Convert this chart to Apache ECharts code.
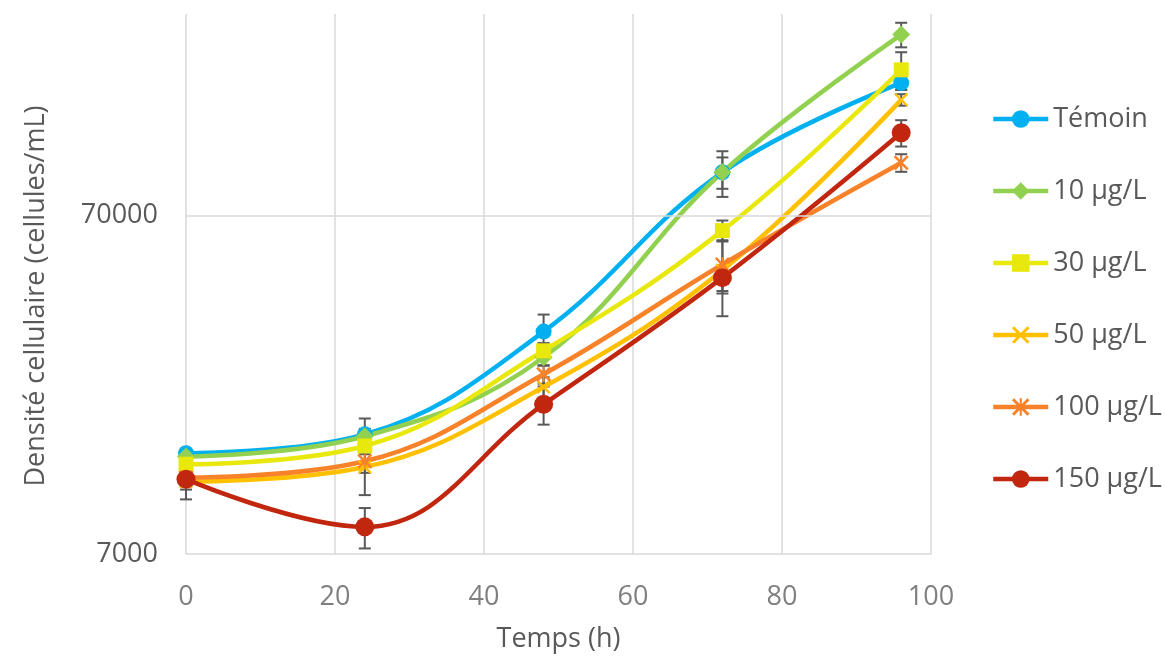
<!DOCTYPE html>
<html>
<head>
<meta charset="utf-8">
<script src="https://cdn.jsdelivr.net/npm/echarts@6/dist/echarts.min.js"></script>
<style>
html,body{margin:0;padding:0;background:#fff;}
#chart{width:1167px;height:658px;}
</style>
</head>
<body>
<div id="chart"></div>
<script>
// ---- data ----
const times = [0, 24, 48, 72, 96];
const seriesNames = ['Témoin', '10 µg/L', '30 µg/L', '50 µg/L', '100 µg/L', '150 µg/L'];
const temoin = [13900, 15800, 31800, 94000, 172700];
const c10 = [13600, 15600, 26700, 94000, 240000];
const c30 = [12900, 14600, 27900, 63200, 188800];
const c50 = [11450, 12650, 21800, 48300, 153900];
const c100 = [11780, 13160, 23800, 50200, 100300];
const c150 = [11650, 8420, 19380, 45900, 123000];
const errTemoin = [400, 1800, 3900, 14500, 8000];
const err10 = [400, 800, 1500, 10000, 20000];
const err30 = [400, 800, 1500, 4500, 24000];
const err50 = [600, 2200, 1500, 13000, 6000];
const err100 = [600, 1000, 1500, 9000, 6000];
const err150 = [1500, 1150, 2500, 4000, 11000];
const xTicks = [0, 20, 40, 60, 80, 100];
const yTickLabels = ['7000', '70000'];
const yTickValues = [7000, 70000];

const values = [temoin, c10, c30, c50, c100, c150];
const errors = [errTemoin, err10, err30, err50, err100, err150];
const colors = ['#00B0F0', '#92D050', '#E8E80C', '#FFC000', '#F7822A', '#C1260F'];
const xPath = 'path://M0,1.2 L1.2,0 L5,3.8 L8.8,0 L10,1.2 L6.2,5 L10,8.8 L8.8,10 L5,6.2 L1.2,10 L0,8.8 L3.8,5 Z';
const starPath = 'path://M0,1.2 L1.2,0 L5,3.8 L8.8,0 L10,1.2 L6.2,5 L10,8.8 L8.8,10 L5,6.2 L1.2,10 L0,8.8 L3.8,5 Z M4.4,0 L5.6,0 L5.6,10 L4.4,10 Z';
const symbols = ['circle', 'diamond', 'rect', xPath, starPath, 'circle'];
const symbolSizes = [16, 18, 15, 14, 15, 19];

const FONT = 'Open Sans';
const chart = echarts.init(document.getElementById('chart'), null, {renderer: 'canvas'});

const lineSeries = seriesNames.map((name, i) => ({
  name: name,
  type: 'line',
  smooth: 0.4,
  z: 3,
  data: times.map((t, k) => [t, values[i][k]]),
  symbol: symbols[i],
  symbolSize: symbolSizes[i],
  showAllSymbol: true,
  lineStyle: {color: colors[i], width: 4.5},
  itemStyle: {color: colors[i], borderWidth: 0},
  emphasis: {disabled: true}
}));

const errData = [];
seriesNames.forEach((n, i) => {
  times.forEach((t, k) => errData.push([t, values[i][k], errors[i][k]]));
});

const errSeries = {
  type: 'custom',
  name: 'err',
  z: 2,
  clip: false,
  data: errData,
  encode: {x: 0, y: 1},
  renderItem: function (params, api) {
    const x = api.value(0), v = api.value(1), e = api.value(2);
    const top = api.coord([x, v + e]);
    const bot = api.coord([x, v - e]);
    const hw = 6;
    const st = {stroke: '#595959', lineWidth: 2};
    return {
      type: 'group',
      children: [
        {type: 'line', shape: {x1: top[0], y1: top[1], x2: bot[0], y2: bot[1]}, style: st},
        {type: 'line', shape: {x1: top[0] - hw, y1: top[1], x2: top[0] + hw, y2: top[1]}, style: st},
        {type: 'line', shape: {x1: bot[0] - hw, y1: bot[1], x2: bot[0] + hw, y2: bot[1]}, style: st}
      ]
    };
  }
};

const gridSeries = {
  type: 'line',
  name: 'grid',
  z: 1,
  data: [],
  silent: true,
  markLine: {
    silent: true,
    symbol: ['none', 'none'],
    animation: false,
    lineStyle: {color: '#D9D9D9', width: 1.5, type: 'solid'},
    label: {
      show: true,
      position: 'start',
      distance: 28,
      color: '#595959',
      fontFamily: FONT,
      fontSize: 27,
      formatter: function (p) { return yTickLabels[yTickValues.indexOf(p.value)]; }
    },
    emphasis: {disabled: true},
    data: [{yAxis: yTickValues[1]}]
  }
};

chart.setOption({
  animation: false,
  backgroundColor: '#ffffff',
  textStyle: {fontFamily: FONT},
  grid: {left: 186, right: 236, top: 14, bottom: 103, containLabel: false},
  legend: {
    data: seriesNames,
    orient: 'vertical',
    left: 986,
    top: 99,
    itemWidth: 55,
    itemHeight: 22,
    itemGap: 42,
    lineStyle: {width: 4.5},
    textStyle: {color: '#595959', fontSize: 27, fontFamily: FONT, lineHeight: 30},
    selectedMode: false
  },
  xAxis: {
    type: 'value',
    min: xTicks[0],
    max: xTicks[xTicks.length - 1],
    interval: 20,
    name: 'Temps (h)',
    nameLocation: 'middle',
    nameGap: 72,
    nameTextStyle: {color: '#595959', fontSize: 27, fontFamily: FONT},
    axisLine: {show: true, lineStyle: {color: '#D9D9D9', width: 1.5}},
    axisTick: {show: false},
    axisLabel: {color: '#7F7F7F', fontSize: 27, fontFamily: FONT, margin: 30},
    splitLine: {show: true, lineStyle: {color: '#D9D9D9', width: 1.5}}
  },
  yAxis: {
    type: 'log',
    logBase: 10,
    min: yTickValues[0],
    max: 276000,
    name: 'Densité cellulaire (cellules/mL)',
    nameLocation: 'middle',
    nameRotate: 90,
    nameGap: 136,
    nameTextStyle: {color: '#595959', fontSize: 27, fontFamily: FONT, padding: [0, 24, 0, 0]},
    axisLine: {show: false},
    axisTick: {show: false},
    splitLine: {show: false},
    axisLabel: {
      color: '#595959', fontSize: 27, fontFamily: FONT, margin: 28,
      formatter: function (v) { return Math.abs(v - yTickValues[0]) < 1 ? yTickLabels[0] : ''; }
    }
  },
  series: [gridSeries, errSeries].concat(lineSeries)
});
</script>
</body>
</html>
